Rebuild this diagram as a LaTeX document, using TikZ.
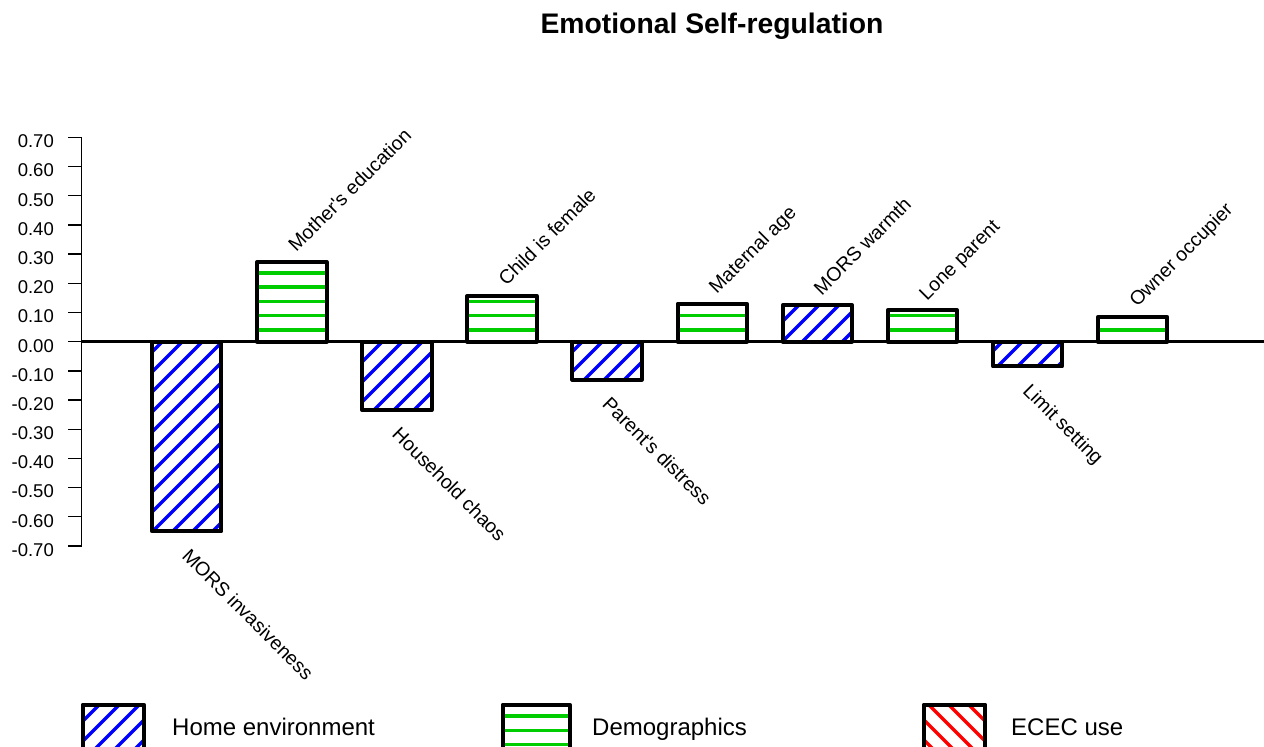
\documentclass[tikz,border=0pt]{standalone}
\usepackage{fontspec}
\newfontfamily\chartfont{Liberation Sans}
\definecolor{hatchblue}{RGB}{0,0,255}
\definecolor{hatchgreen}{RGB}{0,205,0}
\definecolor{hatchred}{RGB}{255,0,0}

% hatch fills, clipped to a rectangle (x0,y0)-(x1,y1)
\newcommand\blueHatch[4]{%
  \begin{scope}
    \clip (#1,#2) rectangle (#3,#4);
    \foreach \k in {0,...,100}{\draw[bluehatch] ({4+20*\k-100},100) -- ({4+20*\k-800},800);}
  \end{scope}}
\newcommand\greenHatch[4]{%
  \begin{scope}
    \clip (#1,#2) rectangle (#3,#4);
    \foreach \k in {-1,...,33}{\draw[greenhatch] (#1,{272.8+14.3*\k}) -- (#3,{272.8+14.3*\k});}
  \end{scope}}
\newcommand\redHatch[4]{%
  \begin{scope}
    \clip (#1,#2) rectangle (#3,#4);
    \foreach \k in {5,...,17}{\draw[redhatch] ({4+20*\k+100},100) -- ({4+20*\k+800},800);}
  \end{scope}}
% one bar: centre x, top y, bottom y, hatch macro
\newcommand\chartBar[4]{%
  #4{#1-34.7}{#2}{#1+34.7}{#3}
  \draw[barframe] ({#1-34.7},#2) rectangle ({#1+34.7},#3);}

\begin{document}
\begin{tikzpicture}[x=1pt,y=-1pt,
  axisline/.style={line width=1.3pt,black},
  zeroline/.style={line width=3.5pt,black},
  barframe/.style={line width=4pt,black,line join=round},
  bluehatch/.style={line width=3.5pt,hatchblue},
  greenhatch/.style={line width=3.4pt,hatchgreen},
  redhatch/.style={line width=3.5pt,hatchred},
  ticklabel/.style={font=\chartfont\fontsize{18.5}{22}\selectfont,inner sep=0pt,anchor=base east},
  barlabel/.style={font=\chartfont\fontsize{19.5}{23}\selectfont,inner sep=0pt,anchor=base west},
  uplabel/.style={barlabel,rotate=45},
  downlabel/.style={barlabel,rotate=-45},
  legendlabel/.style={font=\chartfont\fontsize{24}{28}\selectfont,inner sep=0pt,anchor=base west},
  titlelabel/.style={font=\chartfont\bfseries\fontsize{28.3}{32}\selectfont,inner sep=0pt,anchor=base}]
\useasboundingbox (0,0) rectangle (1264,747);
\clip (0,0) rectangle (1264,747);

% title
\node[titlelabel] (title) at (712,33) {Emotional Self-regulation};

% value axis with ticks and labels
\coordinate (axtop) at (81.7,137.4);
\coordinate (axbot) at (81.7,546);
\draw[axisline] (axtop) -- (axbot);
\foreach \v/\t [count=\i] in {7/0.70,6/0.60,5/0.50,4/0.40,3/0.30,2/0.20,1/0.10,0/0.00,
  -1/-0.10,-2/-0.20,-3/-0.30,-4/-0.40,-5/-0.50,-6/-0.60,-7/-0.70}{
  \coordinate (tick\i) at (81.7,{341.7-29.19*\v});
  \draw[axisline] (tick\i) -- ++(-13.4,0);
  \node[ticklabel] (ticklab\i) at ([xshift=-27.7pt,yshift=-10.3pt]tick\i) {\t};
}

% bars
\chartBar{186.7}{341.7}{531.3}{\blueHatch}
\chartBar{291.8}{262}{341.7}{\greenHatch}
\chartBar{396.9}{341.7}{410}{\blueHatch}
\chartBar{502.0}{296}{341.7}{\greenHatch}
\chartBar{607.1}{341.7}{379.5}{\blueHatch}
\chartBar{712.2}{303.7}{341.7}{\greenHatch}
\chartBar{817.3}{305.3}{341.7}{\blueHatch}
\chartBar{922.4}{310.3}{341.7}{\greenHatch}
\chartBar{1027.5}{341.7}{366.3}{\blueHatch}
\chartBar{1132.6}{317}{341.7}{\greenHatch}

% zero line
\coordinate (zl) at (81.7,341.7);
\coordinate (zr) at (1264,341.7);
\draw[zeroline] (zl) -- (zr);

% bar labels
\node[downlabel] (lab1) at ({186.7-5.8},{531.3+25.6}) {MORS invasiveness};
\node[uplabel] (lab2) at ({291.8+4.5},{262-9}) {Mother's education};
\node[downlabel] (lab3) at ({396.9-5.8},{410+25.6}) {Household chaos};
\node[uplabel] (lab4) at ({502.0+4.5},{296-9}) {Child is female};
\node[downlabel] (lab5) at ({607.1-5.8},{379.5+25.6}) {Parent's distress};
\node[uplabel] (lab6) at ({712.2+4.5},{303.7-9}) {Maternal age};
\node[uplabel] (lab7) at ({817.3+4.5},{305.3-9}) {MORS warmth};
\node[uplabel] (lab8) at ({922.4+4.5},{310.3-9}) {Lone parent};
\node[downlabel] (lab9) at ({1027.5-5.8},{366.3+25.6}) {Limit setting};
\node[uplabel] (lab10) at ({1132.6+4.5},{317-9}) {Owner occupier};

% legend
\blueHatch{82.7}{704.7}{144}{770}
\draw[barframe] (82.7,704.7) rectangle (144,770);
\node[legendlabel] (leg1) at (172,735) {Home environment};
\greenHatch{502.7}{704.7}{569.7}{770}
\draw[barframe] (502.7,704.7) rectangle (569.7,770);
\node[legendlabel] (leg2) at (592,735) {Demographics};
\redHatch{923.7}{704.7}{985.3}{770}
\draw[barframe] (923.7,704.7) rectangle (985.3,770);
\node[legendlabel] (leg3) at (1011,735) {ECEC use};
\end{tikzpicture}
\end{document}
